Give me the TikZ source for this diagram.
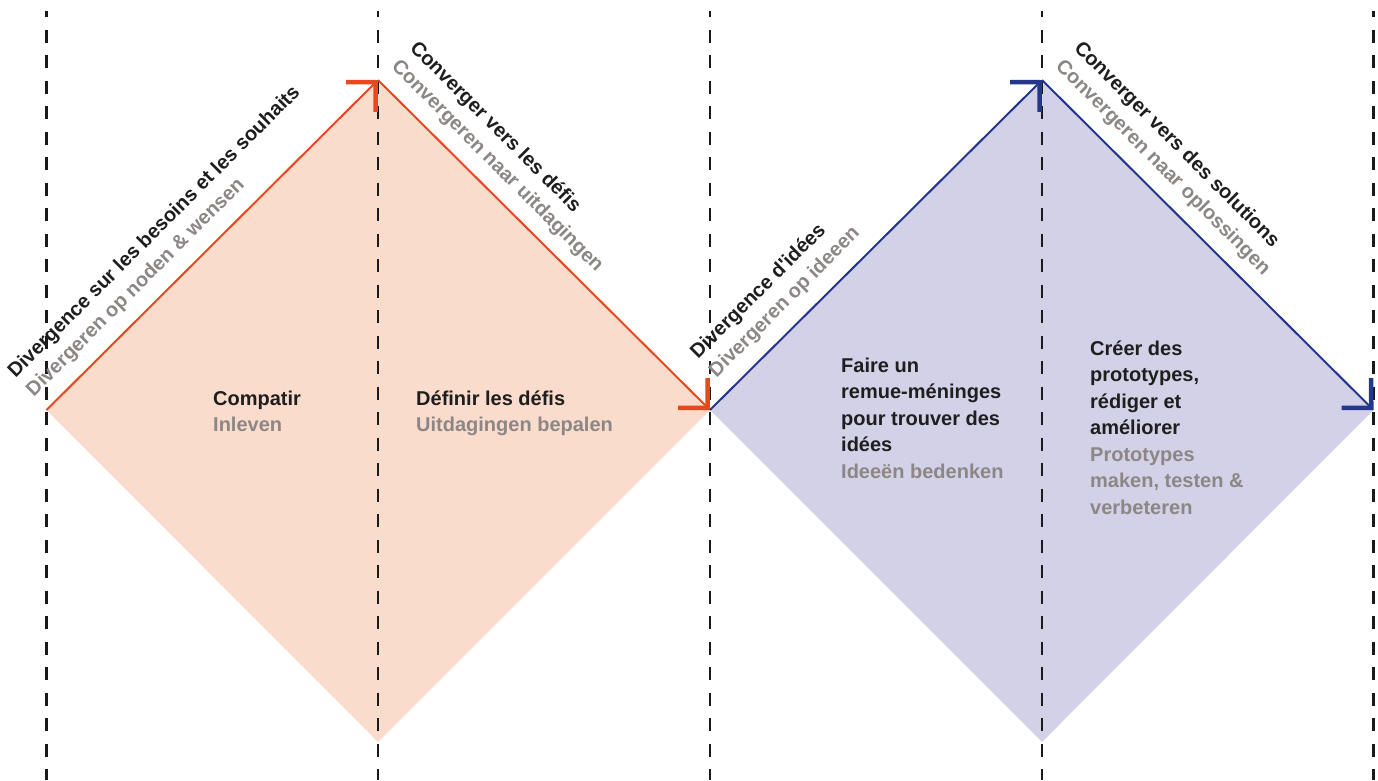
\documentclass[tikz,border=0pt]{standalone}
\usepackage{fontspec}
\setmainfont{Liberation Sans}[Ligatures=TeXOff]
\usetikzlibrary{arrows.meta,calc}
\definecolor{peach}{HTML}{FADCCD}
\definecolor{lav}{HTML}{D3D1E8}
\definecolor{orangeline}{HTML}{E8481E}
\definecolor{navyline}{HTML}{24378C}
\definecolor{txtblack}{HTML}{1E1E1E}
\definecolor{txtgray}{HTML}{8C8685}
\definecolor{dashcol}{HTML}{1A1A1A}
\begin{document}
\begin{tikzpicture}[x=1pt,y=-1pt,
  guide/.style={draw=dashcol, line width=2.5pt, dash pattern=on 13pt off 12.5pt, dash phase=7pt},
  barb/.style={-{Straight Barb[sharp,length=21pt,width=42pt,line width=4.5pt]}},
  edgeO/.style={draw=orangeline, line width=2pt, barb},
  edgeN/.style={draw=navyline, line width=2pt, barb},
  lbl/.style={font=\fontsize{20}{26.5}\selectfont\bfseries, inner sep=0pt, anchor=base west},
  lblk/.style={lbl, text=txtblack},
  lblg/.style={lbl, text=txtgray},
  block/.style={font=\fontsize{20}{26.5}\selectfont\bfseries, inner sep=0pt, anchor=base west, text=txtblack}
]
\useasboundingbox (0,0) rectangle (1378,780);
% vertices
\coordinate (L1) at (46.5,410);
\coordinate (T1) at (378,80);
\coordinate (R1) at (710,410);
\coordinate (B1) at (378,742);
\coordinate (T2) at (1042,80);
\coordinate (R2) at (1373.5,410);
\coordinate (B2) at (1042,742);
% fills
\fill[peach] (L1) -- (T1) -- (R1) -- (B1) -- cycle;
\fill[lav] (R1) -- (T2) -- (R2) -- (B2) -- cycle;
% dashed guides
\foreach \gx in {46.5,378,710,1042,1373.5}
  \draw[guide] (\gx,11) -- (\gx,780);
% edges
\draw[edgeO] (L1) -- (T1);
\draw[edgeO] (T1) -- (R1);
\draw[edgeN] (R1) -- (T2);
\draw[edgeN] (T2) -- (R2);
% edge labels
\node[lblk, rotate=45] (a1) at ($(L1)+(-31.1,-31.1)$) {Divergence sur les besoins et les souhaits};
\node[lblg, rotate=45] (a2) at ($(L1)+(-12.7,-12.7)$) {Divergeren op noden \& wensen};
\node[lblk, rotate=-45] (b1) at ($(T1)+(31.1,-31.1)$) {Converger vers les défis};
\node[lblg, rotate=-45] (b2) at ($(T1)+(12.7,-12.7)$) {Convergeren naar uitdagingen};
\node[lblk, rotate=45] (c1) at ($(R1)+(-12.0,-50.2)$) {Divergence d'idées};
\node[lblg, rotate=45] (c2) at ($(R1)+(6.4,-31.8)$) {Divergeren op ideeen};
\node[lblk, rotate=-45] (d1) at ($(T2)+(31.1,-31.1)$) {Converger vers des solutions};
\node[lblg, rotate=-45] (d2) at ($(T2)+(12.7,-12.7)$) {Convergeren naar oplossingen};
% phase texts
\node[block] (p1) at (213,405) {\begin{tabular}[t]{@{}l@{}}Compatir\\\textcolor{txtgray}{Inleven}\end{tabular}};
\node[block] (p2) at (416,405) {\begin{tabular}[t]{@{}l@{}}Définir les défis\\\textcolor{txtgray}{Uitdagingen bepalen}\end{tabular}};
\node[block] (p3) at (841,372) {\begin{tabular}[t]{@{}l@{}}Faire un\\remue-méninges\\pour trouver des\\idées\\\textcolor{txtgray}{Ideeën bedenken}\end{tabular}};
\node[block] (p4) at (1090,355) {\begin{tabular}[t]{@{}l@{}}Créer des\\prototypes,\\rédiger et\\améliorer\\\textcolor{txtgray}{Prototypes}\\\textcolor{txtgray}{maken, testen \&}\\\textcolor{txtgray}{verbeteren}\end{tabular}};
\end{tikzpicture}
\end{document}
